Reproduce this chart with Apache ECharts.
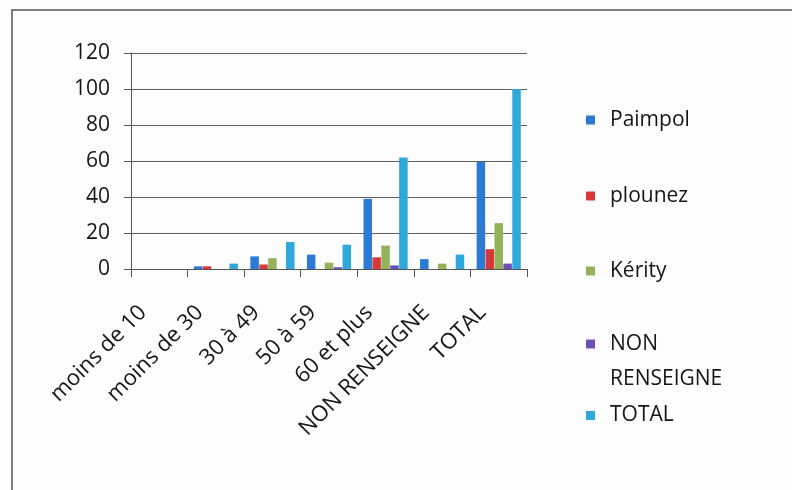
<!DOCTYPE html>
<html>
<head>
<meta charset="utf-8">
<script src="https://cdn.jsdelivr.net/npm/echarts@6/dist/echarts.min.js"></script>
<style>
html,body{margin:0;padding:0;background:#fdfdfd;}
#c{width:792px;height:490px;}
</style>
</head>
<body>
<div id="c"></div>
<script>
var categories = ['moins de 10', 'moins de 30', '30 à 49', '50 à 59', '60 et plus', 'NON RENSEIGNE', 'TOTAL'];
var seriesNames = ['Paimpol', 'plounez', 'Kérity', 'NON RENSEIGNE', 'TOTAL'];
var paimpol = [0, 1.5, 7, 8, 39, 5.5, 59.5];
var plounez = [0, 1.5, 2.5, 0, 6.5, 0, 11];
var kerity = [0, 0, 6, 3.5, 13, 3, 25.5];
var nonRenseigne = [0, 0, 0, 1, 2, 0, 3];
var total = [0, 3, 15, 13.5, 62, 8, 100];
var yTicks = [0, 20, 40, 60, 80, 100, 120];

var colors = ['#2b7bd6', '#d9383a', '#93b35a', '#7050b8', '#30a8dc'];
var values = [paimpol, plounez, kerity, nonRenseigne, total];
var FONT = 'Open Sans';
var legendTops = [108, 184, 259, 291.5, 403.5];

var legends = seriesNames.map(function (n, i) {
  var isTwo = (i === 3);
  return {
    data: [n],
    orient: 'vertical',
    left: 586,
    top: legendTops[i],
    padding: 0,
    itemWidth: 9,
    itemHeight: 9,
    icon: 'rect',
    selectedMode: false,
    formatter: isTwo ? function () { return '\nNON\nRENSEIGNE'; } : undefined,
    textStyle: {
      fontFamily: FONT,
      fontSize: 21,
      color: '#151515',
      lineHeight: isTwo ? 35 : 24,
      padding: [0, 0, 0, 10]
    }
  };
});

var chart = echarts.init(document.getElementById('c'), null, {renderer: 'canvas'});
chart.setOption({
  backgroundColor: '#fdfdfd',
  animation: false,
  color: colors,
  graphic: [{
    type: 'rect',
    shape: {x: 12, y: 10, width: 900, height: 600},
    style: {fill: 'none', stroke: '#555', lineWidth: 1.5},
    silent: true
  }],
  legend: legends,
  grid: {left: 131, top: 53, right: 265, bottom: 221, containLabel: false},
  xAxis: {
    type: 'category',
    data: categories,
    axisLine: {show: true, lineStyle: {color: '#555', width: 1}},
    axisTick: {show: true, length: 8, interval: 0, lineStyle: {color: '#555'}},
    axisLabel: {
      interval: 0,
      rotate: 45,
      margin: 24,
      fontFamily: FONT,
      fontSize: 22,
      color: '#151515',
      padding: [0, 23, 0, 0]
    }
  },
  yAxis: {
    type: 'value',
    min: 0,
    max: 120,
    interval: 20,
    axisLine: {show: true, lineStyle: {color: '#555', width: 1}},
    axisTick: {show: true, length: 7, lineStyle: {color: '#555'}},
    splitLine: {show: true, lineStyle: {color: '#606060', width: 1.2}},
    axisLabel: {
      margin: 21,
      fontFamily: FONT,
      fontSize: 21,
      color: '#151515',
      formatter: function (v) { return yTicks.indexOf(v) >= 0 ? String(v) : ''; }
    }
  },
  series: seriesNames.map(function (n, i) {
    return {
      name: n,
      type: 'bar',
      data: values[i],
      barGap: '5%',
      barCategoryGap: '22%',
      itemStyle: {color: colors[i]}
    };
  })
});
</script>
</body>
</html>
